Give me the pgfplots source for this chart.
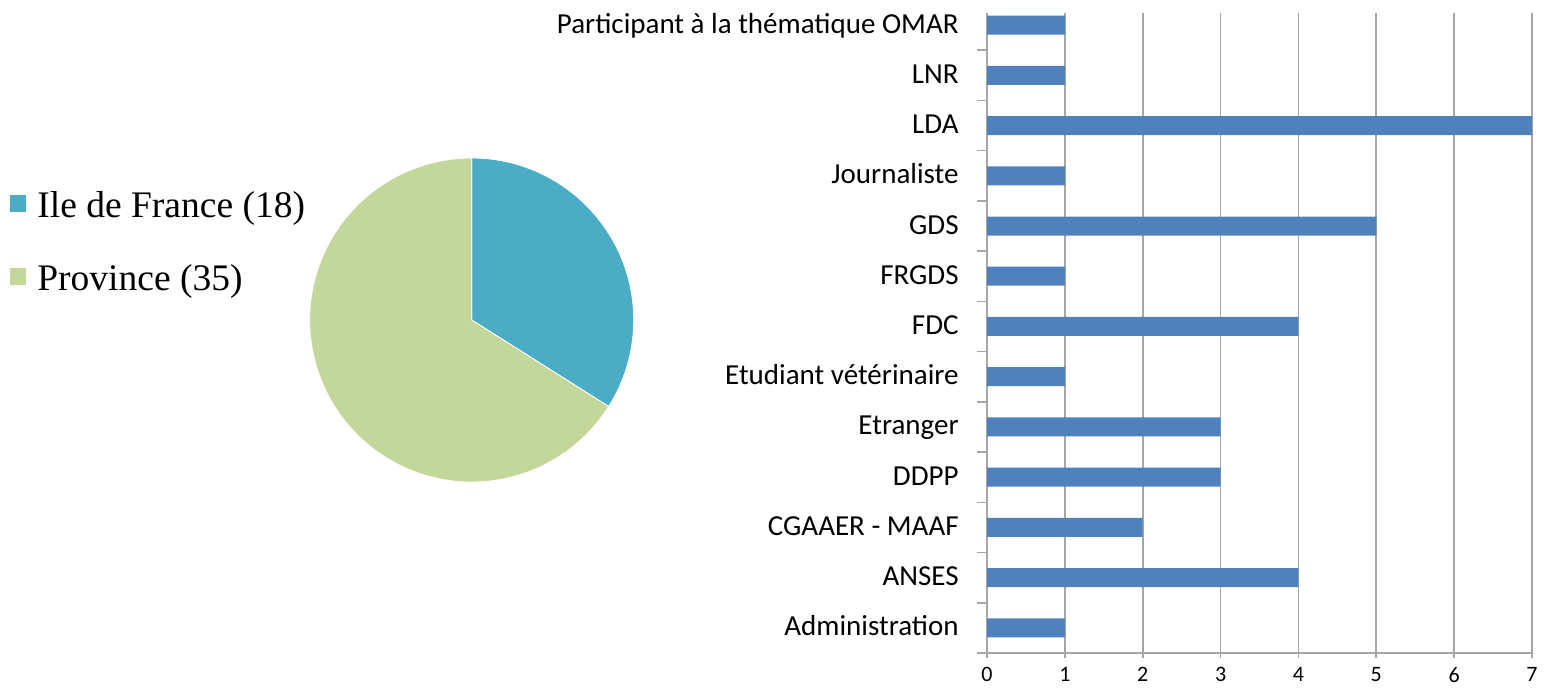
\documentclass[border=0pt]{standalone}
\usepackage{fontspec}
\setmainfont{Carlito}
\newfontfamily\legfont{Liberation Serif}
\usepackage{pgfplots}
\pgfplotsset{compat=1.18}
\definecolor{barblue}{HTML}{4F81BD}
\definecolor{ilecol}{HTML}{4BACC6}
\definecolor{provcol}{HTML}{C4D79B}
\definecolor{gridgray}{HTML}{A6A6A6}
\begin{document}
\begin{tikzpicture}
\path[use as bounding box] (0,0) rectangle (775.5pt,-343.5pt);
% ---- pie: Ile de France 18, Province 35 ----
\def\vA{18}\def\vB{35}
\pgfmathsetmacro\angA{90-360*\vA/(\vA+\vB)}
\coordinate (pc) at (235.85pt,-160pt);
\fill[ilecol, draw=white, line width=0.4pt] (pc) -- ++(90:81pt) arc[start angle=90, end angle=\angA, radius=81pt] -- cycle;
\fill[provcol, draw=white, line width=0.4pt] (pc) -- ++(\angA:81pt) arc[start angle=\angA, end angle=-270, radius=81pt] -- cycle;
% legend
\fill[ilecol] (5pt,-97.5pt) rectangle (13pt,-106pt);
\fill[provcol] (5pt,-134pt) rectangle (13pt,-142.5pt);
\node[anchor=base west, inner sep=0pt, font=\legfont\fontsize{18.75pt}{20pt}\selectfont] at (18.5pt,-108.5pt) {Ile de France (18)};
\node[anchor=base west, inner sep=0pt, font=\legfont\fontsize{18.75pt}{20pt}\selectfont] at (18.5pt,-145pt) {Province (35)};
% ---- bar chart ----
\begin{axis}[
  at={(493.5pt,-326.5pt)}, anchor=south west,
  scale only axis, width=272.5pt, height=320pt,
  xbar, bar width=9.5pt,
  xmin=0, xmax=7, ymin=-0.5, ymax=12.24,
  xtick={0,1,...,7},
  ytick={0,1,...,12},
  yticklabels={Administration, ANSES, CGAAER - MAAF, DDPP, Etranger, Etudiant vétérinaire, FDC, FRGDS, GDS, Journaliste, LDA, LNR, Participant à la thématique OMAR},
  axis x line*=bottom, axis y line*=left,
  axis line style={draw=gridgray, line width=0.8pt, -},
  xmajorgrids, grid style={draw=gridgray, line width=0.8pt},
  tick align=outside, major tick length=2.5pt,
  xtick style={draw=gridgray, line width=0.8pt},
  ytick style={draw=none},
  /pgf/number format/assume math mode=true,
  yticklabel style={anchor=base east, inner sep=0pt, xshift=-11.5pt, yshift=-4pt, font=\fontsize{14.5pt}{16pt}\selectfont},
  xticklabel style={anchor=north, inner sep=0pt, yshift=-4.5pt, font=\fontsize{11pt}{13pt}\selectfont},
  clip=false,
]
\addplot[fill=barblue, draw=none] coordinates {
 (1,0) (4,1) (2,2) (3,3) (3,4) (1,5) (4,6) (1,7) (5,8) (1,9) (7,10) (1,11) (1,12)
};
\pgfplotsinvokeforeach{-0.5,0.5,...,11.5}{\draw[gridgray, line width=0.8pt] (axis cs:0,#1) -- ++(-5pt,0pt);}
\end{axis}
\end{tikzpicture}
\end{document}
